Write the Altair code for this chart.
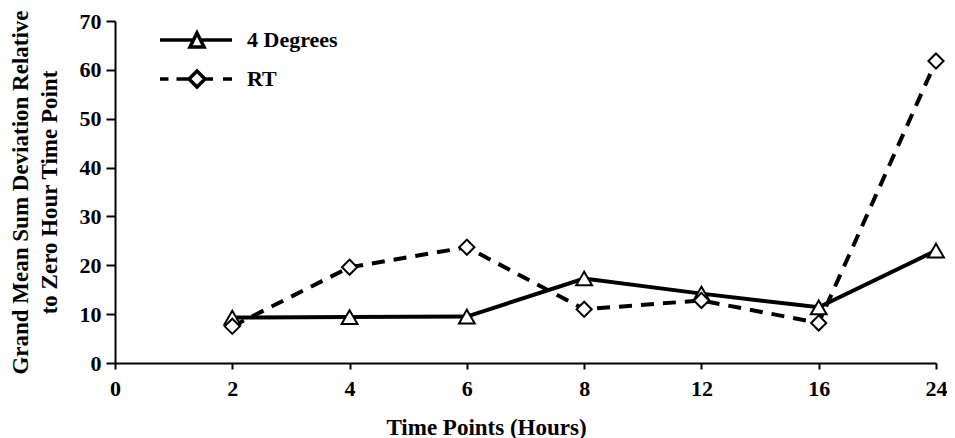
import altair as alt
import pandas as pd

# ---- data ----
tick_labels = ["0", "2", "4", "6", "8", "12", "16", "24"]
time_points = ["2", "4", "6", "8", "12", "16", "24"]
four_degrees = [9.3, 9.4, 9.5, 17.3, 14.2, 11.4, 23.0]
rt = [7.5, 19.6, 23.7, 11.0, 12.8, 8.2, 61.8]
series_names = ["4 Degrees", "RT"]

rows = []
for t, v in zip(time_points, four_degrees):
    rows.append({"time": t, "value": v, "series": "4 Degrees"})
for t, v in zip(time_points, rt):
    rows.append({"time": t, "value": v, "series": "RT"})
df = pd.DataFrame(rows)

FONT = "Liberation Serif"

# legend glyphs: line + marker drawn as one SVG path each
solid_glyph = "M-1,0 H2.35 M3.05,0 H6.2 M2.7,-0.7 L3.4,0.7 L2,0.7 Z"
dashed_glyph = ("M-1,0 H-0.15 M0.65,0 H1.9 M3.5,0 H4.3 M5.3,0 H6.2 "
                "M2.7,-0.8 L3.5,0 L2.7,0.8 L1.9,0 Z")

x_enc = alt.X(
    "time:N",
    scale=alt.Scale(type="point", domain=tick_labels, padding=0),
    axis=alt.Axis(
        title="Time Points (Hours)",
        labelAngle=0,
        labelFont=FONT, labelFontWeight="bold", labelFontSize=22,
        labelColor="black", labelPadding=9,
        titleFont=FONT, titleFontWeight="bold", titleFontSize=23,
        titleColor="black",
        titleX=371, titleY=71, titleBaseline="alphabetic", titleAlign="center",
        domainColor="black", domainWidth=2,
        tickColor="black", tickWidth=2, tickSize=6,
        grid=False,
    ),
)
y_enc = alt.Y(
    "value:Q",
    scale=alt.Scale(domain=[0, 70], nice=False),
    axis=alt.Axis(
        title=["Grand Mean Sum Deviation Relative", "to Zero Hour Time Point"],
        values=[0, 10, 20, 30, 40, 50, 60, 70],
        labelFont=FONT, labelFontWeight="bold", labelFontSize=22,
        labelColor="black", labelPadding=5,
        titleFont=FONT, titleFontWeight="bold", titleFontSize=23,
        titleColor="black", titleLineHeight=29,
        titleX=-88, titleY=171, titleBaseline="alphabetic", titleAlign="center",
        titleAngle=270,
        domainColor="black", domainWidth=2,
        tickColor="black", tickWidth=2, tickSize=9,
        grid=False,
    ),
)

line_4 = alt.Chart(df).transform_filter(alt.datum.series == "4 Degrees").mark_line(
    strokeWidth=4, color="black"
).encode(x=x_enc, y=y_enc)

line_rt = alt.Chart(df).transform_filter(alt.datum.series == "RT").mark_line(
    strokeWidth=4, color="black", strokeDash=[13, 9]
).encode(x=x_enc, y=y_enc)

tri = alt.Chart(df).transform_filter(alt.datum.series == "4 Degrees").mark_point(
    shape="triangle-up", size=250, filled=True, fill="white",
    stroke="black", strokeWidth=2, opacity=1,
).encode(x=x_enc, y=y_enc)

dia = alt.Chart(df).transform_filter(alt.datum.series == "RT").mark_point(
    shape="diamond", size=230, filled=True, fill="white",
    stroke="black", strokeWidth=2, opacity=1,
).encode(x=x_enc, y=y_enc)

# legend-only layer: draws no marks of its own, only the legend
legend_layer = alt.Chart(df).transform_filter("false").mark_point(
    filled=False, color="black", strokeWidth=3.5, opacity=1,
).encode(
    x=x_enc,
    y=y_enc,
    shape=alt.Shape(
        "series:N",
        scale=alt.Scale(domain=series_names, range=[solid_glyph, dashed_glyph]),
        legend=alt.Legend(
            title=None,
            orient="none", legendX=43, legendY=7,
            padding=0, rowPadding=10,
            symbolSize=400, symbolStrokeWidth=3.5,
            symbolStrokeColor="black",
            symbolOpacity=1,
            labelFont=FONT, labelFontWeight="bold", labelFontSize=22,
            labelColor="black", labelOffset=65,
        ),
    ),
)

chart = alt.layer(line_4, line_rt, tri, dia, legend_layer).properties(
    width=821,
    height=342,
    autosize=alt.AutoSizeParams(type="none"),
    padding={"left": 107, "top": 13, "right": 11, "bottom": 75},
    background="white",
).configure_view(stroke=None)

chart.save("out.html", embed_options={"renderer": "svg", "actions": False})
